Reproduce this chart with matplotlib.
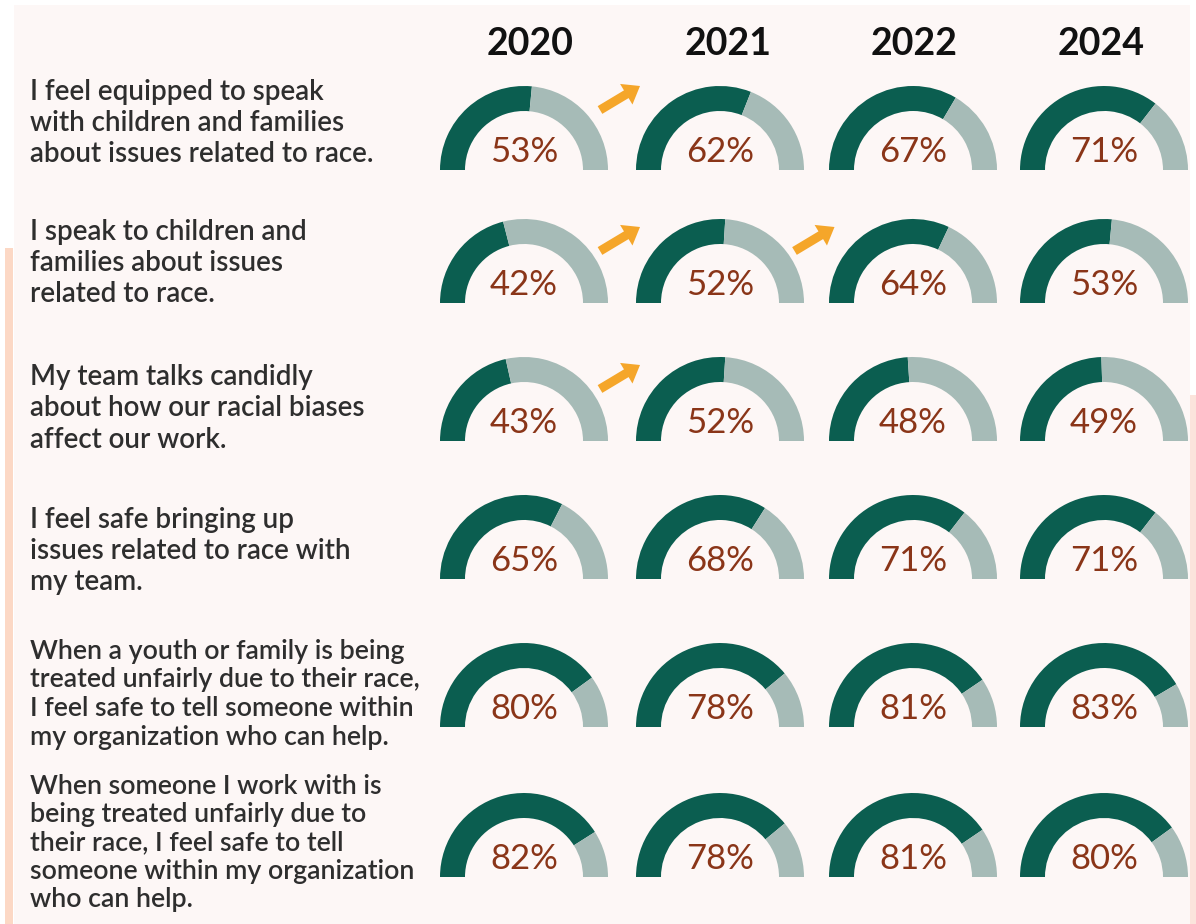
import matplotlib
matplotlib.use("Agg")
import matplotlib.pyplot as plt
from matplotlib.patches import Wedge, Rectangle, FancyArrow

# ---------------- data ----------------
years = ["2020", "2021", "2022", "2024"]
statements = [
    "I feel equipped to speak\nwith children and families\nabout issues related to race.",
    "I speak to children and\nfamilies about issues\nrelated to race.",
    "My team talks candidly\nabout how our racial biases\naffect our work.",
    "I feel safe bringing up\nissues related to race with\nmy team.",
    "When a youth or family is being\ntreated unfairly due to their race,\nI feel safe to tell someone within\nmy organization who can help.",
    "When someone I work with is\nbeing treated unfairly due to\ntheir race, I feel safe to tell\nsomeone within my organization\nwho can help.",
]
pct_2020 = [53, 42, 43, 65, 80, 82]
pct_2021 = [62, 52, 52, 68, 78, 78]
pct_2022 = [67, 64, 48, 71, 81, 81]
pct_2024 = [71, 53, 49, 71, 83, 80]
# significant increases: (row index, from-year column index)
increase_arrows = [(0, 0), (1, 0), (1, 1), (2, 0)]

# ---------------- style / layout ----------------
W, H = 1196, 924
C_DARK = "#0b5e50"
C_LIGHT = "#a6bbb7"
C_PCT = "#8a3518"
C_TEXT = "#2e2e2e"
C_ARROW = "#f5a62a"
C_PANEL = "#fdf7f6"
C_STRIPE = "#fcd8c5"

col_x = [524, 720, 913, 1104]
year_x = [530, 728, 914, 1101]
row_base = [170, 303, 441, 579, 727, 877]
label_first = [92, 232, 377, 520, 651, 786]
label_step = [31, 31, 31.5, 31, 29, 28.5]
label_size = [20, 20, 20, 20, 19.3, 19.3]
R_OUT, THICK = 84, 25

fig = plt.figure(figsize=(W / 100, H / 100), dpi=100)
fig.patch.set_facecolor("white")
ax = fig.add_axes([0, 0, 1, 1])
ax.set_xlim(0, W)
ax.set_ylim(0, H)
ax.set_aspect("equal")
ax.axis("off")

def Y(py):
    return H - py

# background panel and stripes
ax.add_patch(Rectangle((14, 0), 1190 - 14, Y(5), facecolor=C_PANEL, edgecolor="none", zorder=0))
ax.add_patch(Rectangle((5, 0), 8, Y(248), facecolor=C_STRIPE, edgecolor="none", zorder=0))
ax.add_patch(Rectangle((1190, 0), 6, Y(395), facecolor="#fbe4dc", edgecolor="none", zorder=0))

# year headers
for x, yr in zip(year_x, years):
    ax.text(x, Y(44), yr, ha="center", va="center", fontsize=27, fontweight="bold",
            family="Lato", color="#111111")

# statement labels
for i, s in enumerate(statements):
    for j, line in enumerate(s.split("\n")):
        ax.text(30, Y(label_first[i] + j * label_step[i]), line, ha="left", va="center",
                fontsize=label_size[i], fontweight="semibold", family="Lato", color=C_TEXT)

# gauges
series = [pct_2020, pct_2021, pct_2022, pct_2024]
for c, vals in enumerate(series):
    for r, v in enumerate(vals):
        cx, cy = col_x[c], Y(row_base[r])
        split = 180 * (1 - v / 100)
        ax.add_patch(Wedge((cx, cy), R_OUT, split, 180, width=THICK,
                           facecolor=C_DARK, edgecolor="none", zorder=2))
        ax.add_patch(Wedge((cx, cy), R_OUT, 0, split, width=THICK,
                           facecolor=C_LIGHT, edgecolor="none", zorder=2))
        ax.text(cx, cy + 18, f"{v}%", ha="center", va="center", fontsize=25,
                family="Lato", color=C_PCT, zorder=3)

# increase arrows
for r, c in increase_arrows:
    mx = (col_x[c] + col_x[c + 1]) / 2 - 2
    my = Y(row_base[r]) + (72 if r == 0 else 64)
    ax.add_patch(FancyArrow(mx - 20, my - 12, 40, 24, width=9, head_width=24,
                            head_length=16, length_includes_head=True,
                            facecolor=C_ARROW, edgecolor="none", zorder=3))

fig.savefig("out.png", dpi=100, facecolor="white")
